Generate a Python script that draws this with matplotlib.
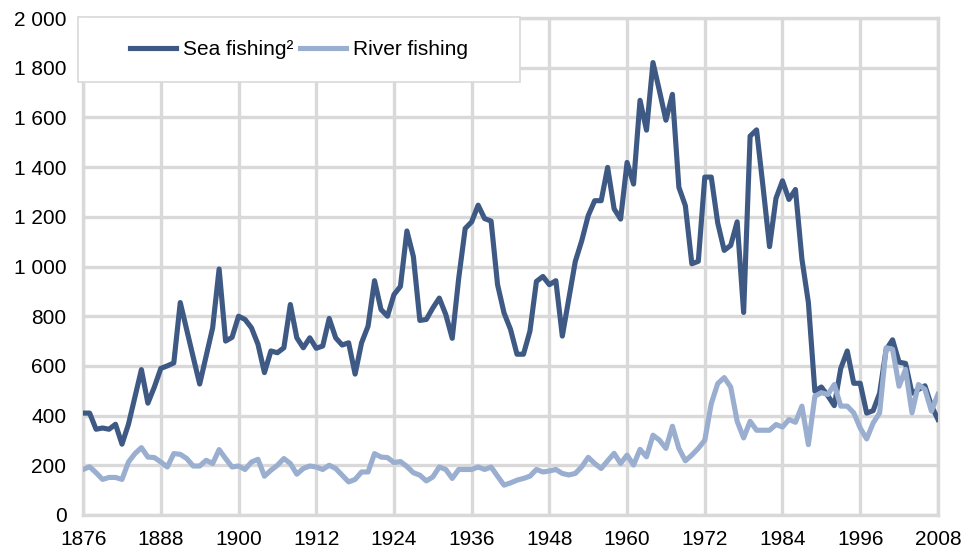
import matplotlib.pyplot as plt
from matplotlib.patches import Rectangle
from matplotlib.ticker import FuncFormatter
import numpy as np

plt.rcParams['font.family'] = ['Liberation Sans', 'DejaVu Sans']

# Data
years = np.arange(1876, 2009)

sea = [
    410, 410, 345, 350, 345, 365, 285, 365, 475, 585,        # 1876-1885
    450, 515, 590, 600, 612, 855, 745, 635, 527, 640,        # 1886-1895
    753, 990, 700, 715, 800, 787, 753, 687, 573, 660,        # 1896-1905
    653, 673, 847, 713, 673, 713, 671, 680, 791, 713,        # 1906-1915
    684, 693, 567, 693, 760, 943, 827, 800, 887, 920,        # 1916-1925
    1143, 1040, 783, 787, 833, 873, 807, 711, 953, 1153,     # 1926-1935
    1180, 1247, 1193, 1183, 927, 813, 747, 647, 647, 740,    # 1936-1945
    940, 960, 927, 943, 720, 870, 1020, 1104, 1205, 1265,    # 1946-1955
    1265, 1399, 1232, 1191, 1419, 1332, 1669, 1549, 1821, 1707,  # 1956-1965
    1589, 1693, 1319, 1245, 1011, 1021, 1360, 1360, 1175, 1065,  # 1966-1975
    1085, 1180, 815, 1525, 1550, 1320, 1080, 1275, 1345, 1270,   # 1976-1985
    1310, 1030, 855, 498, 515, 480, 440, 590, 660, 530,      # 1986-1995
    530, 410, 420, 490, 665, 705, 615, 610, 490, 505,        # 1996-2005
    520, 440, 385,                                           # 2006-2008
]

river = [
    183, 194, 170, 143, 151, 151, 143, 213, 247, 271,        # 1876-1885
    233, 231, 213, 193, 247, 244, 227, 197, 197, 220,        # 1886-1895
    207, 263, 227, 193, 197, 183, 213, 224, 156, 180,        # 1896-1905
    200, 227, 207, 164, 187, 197, 193, 183, 200, 187,        # 1906-1915
    160, 133, 143, 173, 173, 247, 233, 231, 211, 215,        # 1916-1925
    195, 170, 160, 137, 153, 193, 183, 147, 183, 183,        # 1926-1935
    183, 193, 183, 193, 156, 120, 129, 140, 147, 156,        # 1936-1945
    183, 173, 177, 183, 167, 161, 167, 194, 232, 207,        # 1946-1955
    187, 218, 248, 207, 241, 201, 264, 234, 321, 301,        # 1956-1965
    268, 357, 268, 218, 241, 268, 301, 448, 529, 553,        # 1966-1975
    515, 377, 310, 377, 341, 341, 341, 364, 354, 384,        # 1976-1985
    373, 438, 283, 478, 492, 485, 525, 438, 438, 411,        # 1986-1995
    350, 306, 370, 411, 673, 667, 518, 586, 411, 525,        # 1996-2005
    505, 418, 485,                                           # 2006-2008
]

xticks = np.arange(1876, 2009, 12)
yticks = np.arange(0, 2001, 200)

grid_col = '#D9D9D9'

fig = plt.figure(figsize=(9.78, 5.57), dpi=100)
ax = fig.add_axes([0.085, 0.0755, 0.874, 0.892])

ax.plot(years, sea, color='#3E5A84', lw=3.7, label='Sea fishing\u00b2',
        solid_joinstyle='round', zorder=3)
ax.plot(years, river, color='#9AAED0', lw=3.7, label='River fishing',
        solid_joinstyle='round', zorder=4)

ax.set_xlim(1876, 2008)
ax.set_ylim(0, 2000)
ax.set_xticks(xticks)
ax.set_yticks(yticks)
ax.yaxis.set_major_formatter(FuncFormatter(lambda v, p: f'{int(v):,}'.replace(',', ' ')))
ax.tick_params(length=0, labelsize=15)
ax.tick_params(axis='y', pad=12)
ax.tick_params(axis='x', pad=11)

ax.grid(True, color=grid_col, lw=2.4)
ax.set_axisbelow(True)
for s in ax.spines.values():
    s.set_color(grid_col)
    s.set_linewidth(2.4)

# legend box
box = Rectangle((-0.006, 0.871), 0.517, 0.131, transform=ax.transAxes,
                facecolor='white', edgecolor=grid_col, lw=1.2,
                clip_on=False, zorder=5)
ax.add_patch(box)
leg = ax.legend(loc='center', bbox_to_anchor=(0.2526, 0.9366), ncol=2,
                frameon=False, fontsize=15, handlelength=2.2,
                handletextpad=0.35, columnspacing=0.3)
leg.set_zorder(6)

plt.savefig('out.png', dpi=100)
